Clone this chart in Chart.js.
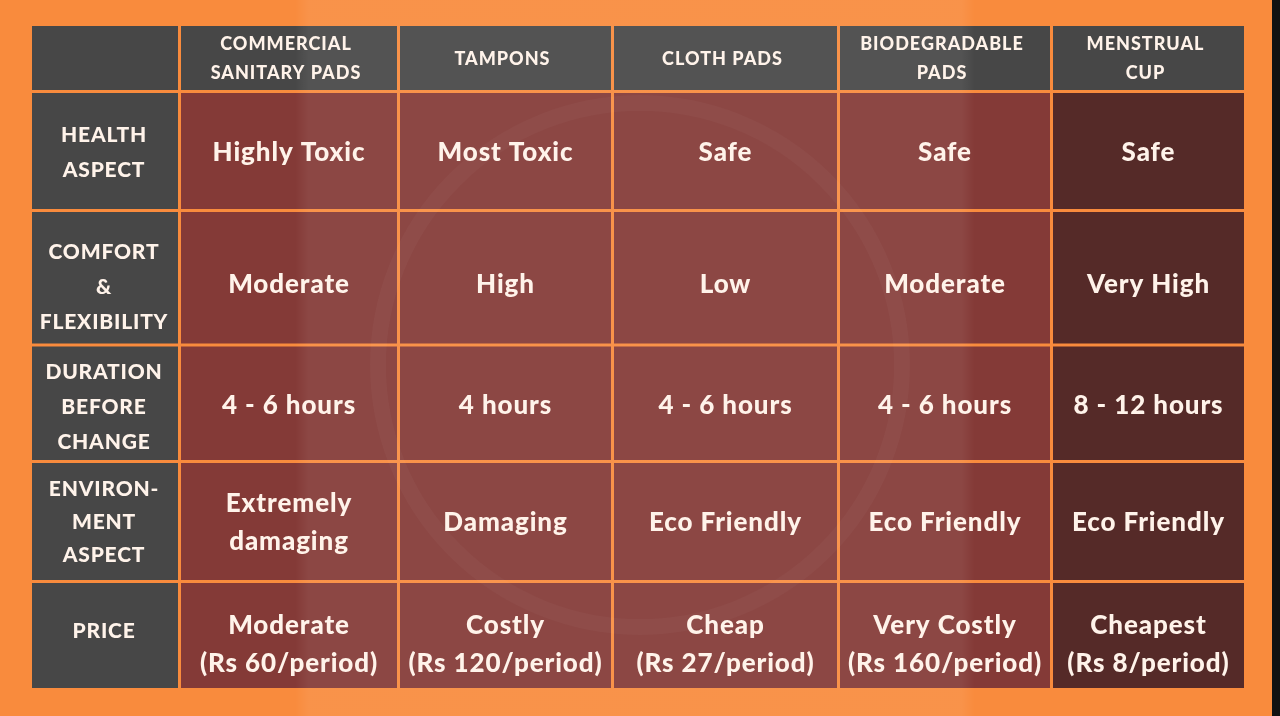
<!DOCTYPE html>
<html lang="en">
  <head>
    <meta charset="UTF-8" />
    <title>Menstrual products comparison</title>
    <script src="https://cdn.jsdelivr.net/npm/chart.js@4.4.1/dist/chart.umd.min.js"></script>
    <style>
      body {
        margin: 0;
        background: #f98b3d;
        overflow: hidden;
      }
      #wrap {
        width: 1280px;
        height: 716px;
      }
    </style>
  </head>
  <body>
    <div id="wrap"><canvas id="table"></canvas></div>
    <script>
      // table content
      const products = [["COMMERCIAL", "SANITARY PADS"], ["TAMPONS"], ["CLOTH PADS"], ["BIODEGRADABLE", "PADS"], ["MENSTRUAL", "CUP"]];
      const aspects = [["HEALTH", "ASPECT"], ["COMFORT", "&", "FLEXIBILITY"], ["DURATION", "BEFORE", "CHANGE"], ["ENVIRON-", "MENT", "ASPECT"], ["PRICE"]];
      const health = ["Highly Toxic", "Most Toxic", "Safe", "Safe", "Safe"];
      const comfort = ["Moderate", "High", "Low", "Moderate", "Very High"];
      const duration = ["4 - 6 hours", "4 hours", "4 - 6 hours", "4 - 6 hours", "8 - 12 hours"];
      const environment = [["Extremely", "damaging"], ["Damaging"], ["Eco Friendly"], ["Eco Friendly"], ["Eco Friendly"]];
      const priceLabel = ["Moderate", "Costly", "Cheap", "Very Costly", "Cheapest"];
      const pricePerPeriod = [60, 120, 27, 160, 8];

      const rows = [
        health.map(t => [t]),
        comfort.map(t => [t]),
        duration.map(t => [t]),
        environment,
        priceLabel.map((t, i) => [t, `(Rs ${pricePerPeriod[i]}/period)`]),
      ];

      // layout (grid units, not data)
      const colWidths = [147.5, 219, 214, 226, 213, 192.5];
      const rowHeights = [65.5, 119, 134.5, 116.5, 120, 106.5];
      const labelShift = [1, 2, 9, 4, 1, -4];
      const valueShift = [0, 2, 7, 2, 1, 9];
      const gap = 3;
      const edges = arr => arr.reduce((acc, w) => (acc.push(acc[acc.length - 1] + w), acc), [0]);
      const colEdges = edges(colWidths);
      const rowEdges = edges(rowHeights);

      const GRAY = "#474747";
      const RED = "#843a37";
      const DARK = "#552a28";
      const TEXT = "#fff3ea";
      const ORANGE = "#f98b3d";

      const tablePlugin = {
        id: "tablePlugin",
        beforeDraw(chart) {
          const { ctx, scales: { x, y } } = chart;
          const W = chart.width, H = chart.height;
          ctx.save();
          ctx.fillStyle = ORANGE;
          ctx.fillRect(0, 0, W, H);
          ctx.fillStyle = "#111";
          ctx.fillRect(W - 8, 0, 8, H);

          const cell = (c, r) => {
            const x0 = x.getPixelForValue(colEdges[c]) + (c === 0 ? 0 : gap / 2);
            const x1 = x.getPixelForValue(colEdges[c + 1]) - (c === colWidths.length - 1 ? 0 : gap / 2);
            const y0 = y.getPixelForValue(rowEdges[r]) + (r === 0 ? 0 : gap / 2);
            const y1 = y.getPixelForValue(rowEdges[r + 1]) - (r === rowHeights.length - 1 ? 0 : gap / 2);
            return { x0, x1, y0, y1, cx: (x0 + x1) / 2, cy: (y0 + y1) / 2 };
          };

          for (let r = 0; r < rowHeights.length; r++) {
            for (let c = 0; c < colWidths.length; c++) {
              const b = cell(c, r);
              let fill = RED;
              if (r === 0 || c === 0) fill = GRAY;
              else if (c === colWidths.length - 1) fill = DARK;
              ctx.fillStyle = fill;
              ctx.fillRect(b.x0, b.y0, b.x1 - b.x0, b.y1 - b.y0);
            }
          }

          // lighter band from the video frame
          const grad = ctx.createLinearGradient(295, 0, 975, 0);
          grad.addColorStop(0, "rgba(255,255,255,0)");
          grad.addColorStop(0.02, "rgba(255,255,255,0.065)");
          grad.addColorStop(0.98, "rgba(255,255,255,0.065)");
          grad.addColorStop(1, "rgba(255,255,255,0)");
          ctx.fillStyle = grad;
          ctx.fillRect(295, 0, 680, H);

          // faint watermark ring
          ctx.strokeStyle = "rgba(255,255,255,0.028)";
          ctx.lineWidth = 16;
          ctx.beginPath();
          ctx.arc(640, 365, 262, 0, Math.PI * 2);
          ctx.stroke();

          ctx.fillStyle = TEXT;
          ctx.textAlign = "center";
          ctx.textBaseline = "middle";

          const lines = (arr, cx, cy, lh) => {
            const top = cy - ((arr.length - 1) * lh) / 2;
            arr.forEach((t, i) => ctx.fillText(t, cx, top + i * lh));
          };

          // header row
          ctx.font = "900 18px Lato";
          ctx.letterSpacing = "1px";
          products.forEach((p, i) => {
            const b = cell(i + 1, 0);
            lines(p, b.cx - 3, b.cy + labelShift[0], 29);
          });

          // aspect column
          ctx.font = "900 21px Lato";
          ctx.letterSpacing = "0.8px";
          aspects.forEach((a, i) => {
            const b = cell(0, i + 1);
            lines(a, b.cx - 1, b.cy + labelShift[i + 1], i === 3 ? 33 : 35);
          });

          // values
          ctx.font = "900 26px Lato";
          ctx.letterSpacing = "0.9px";
          rows.forEach((row, r) => {
            row.forEach((v, c) => {
              const b = cell(c + 1, r + 1);
              lines(v, b.cx, b.cy + valueShift[r + 1], 38);
            });
          });
          ctx.restore();
        },
      };

      new Chart(document.getElementById("table"), {
        type: "scatter",
        data: { datasets: [{ data: [], pointRadius: 0 }] },
        options: {
          responsive: true,
          maintainAspectRatio: false,
          animation: false,
          events: [],
          layout: { padding: { left: 32, right: 36, top: 26, bottom: 28 } },
          plugins: { legend: { display: false }, tooltip: { enabled: false } },
          scales: {
            x: { type: "linear", display: false, min: 0, max: colEdges[colEdges.length - 1] },
            y: { type: "linear", display: false, reverse: true, min: 0, max: rowEdges[rowEdges.length - 1] },
          },
        },
        plugins: [tablePlugin],
      });
    </script>
  </body>
</html>
